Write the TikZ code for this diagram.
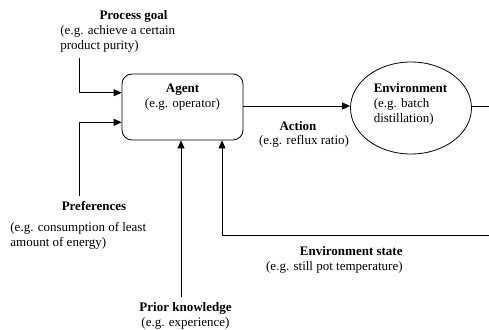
\documentclass[tikz,border=0pt]{standalone}
\usepackage{fontspec}
\setmainfont{Liberation Serif}
\usetikzlibrary{arrows.meta,shapes.geometric}

\begin{document}
\begin{tikzpicture}[x=1pt,y=-1pt,line width=0.8pt,
  font=\fontsize{13}{15}\selectfont,
  flow/.style={-{Triangle[length=8pt,width=7pt]}},
  agentbox/.style={draw,rounded corners=10pt,minimum width=121pt,minimum height=66pt},
  envshape/.style={draw,ellipse,minimum width=121pt,minimum height=92pt},
  txt/.style={inner sep=0pt}]
  \useasboundingbox (0,0) rectangle (489,329);

  \node[agentbox] (agent) at (182.5,107) {};
  \node[txt,align=center,anchor=north] (agenttxt) at (182.5,84) {\textbf{Agent}\\(e.g. operator)};
  \node[envshape] (env) at (411,108) {};
  \node[txt,align=left] (envtxt) at (410.5,104) {\textbf{Environment}\\(e.g. batch\\distillation)};

  \node[txt] (goalttl) at (133.5,16) {\textbf{Process goal}};
  \node[txt,align=left,anchor=west] (goaltxt) at (60,38.5) {(e.g. achieve a certain\\product purity)};
  \node[txt] (prefttl) at (94,206) {\textbf{Preferences}};
  \node[txt,align=left,anchor=west] (preftxt) at (10,236) {(e.g. consumption of least\\amount of energy)};
  \node[txt,align=center] (priortxt) at (185.5,316) {\textbf{Prior knowledge}\\(e.g. experience)};
  \node[txt] (actttl) at (298,126) {\textbf{Action}};
  \node[txt] (acttxt) at (304,141) {(e.g. reflux ratio)};
  \node[txt,align=right,anchor=east] (statetxt) at (403,260) {\textbf{Environment state}\\(e.g. still pot temperature)};

  \coordinate (goalend) at (79,58);
  \coordinate (prefend) at (79,196);
  \coordinate (priorend) at (181,297);
  \coordinate (stateend) at (489,235);
  \coordinate (envout) at (489,106);

  \draw[flow] (goalend) |- (agent.west |- 0,92.7);
  \draw[flow] (prefend) |- (agent.west |- 0,122.3);
  \draw[flow] (priorend) -- (priorend |- agent.south);
  \draw[flow] (stateend) -| (agent.south -| 222,0);
  \draw[flow] (agent.east |- 0,106) -- (env.west |- 0,106);
  \draw (env.east |- 0,106) -- (envout);
\end{tikzpicture}
\end{document}
